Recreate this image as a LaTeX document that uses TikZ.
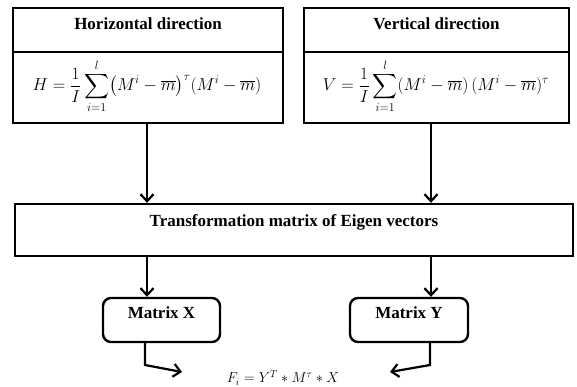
\documentclass[tikz,border=0pt]{standalone}
\usepackage{amsmath}
\usepackage{fontspec}
\setmainfont{Liberation Serif}
\usetikzlibrary{arrows.meta}
\begin{document}
\begin{tikzpicture}[x=1pt,y=-1pt,
  box/.style={draw,line width=2.4pt,inner sep=0pt},
  rbox/.style={draw,line width=2.4pt,rounded corners=8pt,inner sep=0pt},
  ttl/.style={font=\fontsize{17}{20}\selectfont\bfseries,inner sep=0pt},
  frm/.style={font=\fontsize{16.5}{19}\selectfont,inner sep=0pt},
  arr/.style={line width=2.2pt,-{Straight Barb[length=7pt,width=13pt,line width=2.2pt]}}]
\useasboundingbox (0,0) rectangle (577,387);
% top boxes
\node[box,minimum width=270,minimum height=115] (hbox) at (148,65.5) {};
\node[box,minimum width=265,minimum height=115] (vbox) at (436.5,65.5) {};
\coordinate (hd) at (0,52);
\draw[line width=2.4pt] (hbox.west |- hd) -- (hbox.east |- hd);
\draw[line width=2.4pt] (vbox.west |- hd) -- (vbox.east |- hd);
\node[ttl] (ht) at (148,24) {Horizontal direction};
\node[ttl] (vt) at (436.5,24) {Vertical direction};
\node[frm] (hf) at (147,86) {$H=\dfrac{1}{I}\displaystyle\sum_{i=1}^{l}\bigl(M^i-\overline{m}\bigr)^{\tau}(M^i-\overline{m})$};
\node[frm] (vf) at (436,86) {$V=\dfrac{1}{I}\displaystyle\sum_{i=1}^{l}(M^i-\overline{m})\,(M^i-\overline{m})^{\tau}$};
% transformation box
\node[box,minimum width=558,minimum height=52] (tbox) at (294,230) {};
\node[ttl] (tt) at (294,222) {Transformation matrix of Eigen vectors};
% matrix boxes
\node[rbox,minimum width=117,minimum height=44] (mx) at (161.5,320) {};
\node[rbox,minimum width=118,minimum height=44] (my) at (409,320) {};
\node[ttl] (mxt) at (161.5,313) {Matrix X};
\node[ttl] (myt) at (409,313) {Matrix Y};
% columns
\coordinate (cl) at (147,0);
\coordinate (cr) at (431,0);
\coordinate (bl) at (145,0);
\coordinate (br) at (430,0);
\draw[arr] (cl |- hbox.south) -- (cl |- tbox.north);
\draw[arr] (cr |- vbox.south) -- (cr |- tbox.north);
\draw[arr] (cl |- tbox.south) -- (cl |- mx.north);
\draw[arr] (cr |- tbox.south) -- (cr |- my.north);
% result
\node[font=\fontsize{14.5}{16}\selectfont,inner sep=0pt] (fr) at (283,378) {$F_i=Y^{T}*M^{\tau}*X$};
\coordinate (el) at (182,372);
\coordinate (er) at (390,372);
\draw[arr] (bl |- mx.south) -- (145,365) -- (el);
\draw[arr] (br |- my.south) -- (430,365) -- (er);
\end{tikzpicture}
\end{document}
